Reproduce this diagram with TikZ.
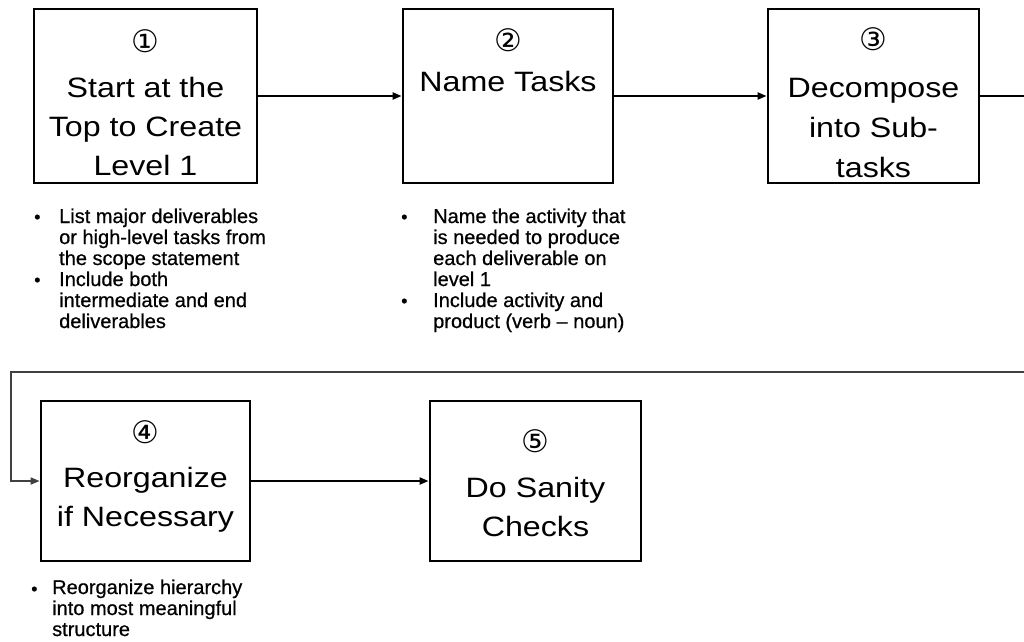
\documentclass[tikz,border=0pt]{standalone}
\usepackage{fontspec}
\setmainfont{Liberation Sans}
\newfontfamily\bigfont[FakeStretch=1.15]{Liberation Sans}
\newfontfamily\notefont[FakeBold=0.6]{Liberation Sans}
\newfontfamily\symfont{DejaVu Sans}
\usetikzlibrary{arrows.meta}
\begin{document}
\begin{tikzpicture}[x=1pt,y=-1pt,
  stepbox/.style={draw=black, line width=2.8pt, rectangle, inner sep=0pt},
  title/.style={font=\bigfont\fontsize{28}{30}\selectfont, anchor=base, inner sep=0pt},
  num/.style={font=\symfont\fontsize{31}{33}\selectfont, anchor=center, inner sep=0pt},
  note/.style={font=\notefont\fontsize{20}{21}\selectfont, align=left, anchor=base west, inner sep=0pt},
  dot/.style={font=\notefont\fontsize{18}{21}\selectfont, anchor=base west, inner sep=0pt},
  flow/.style={line width=2pt, -{Triangle[length=9pt,width=7pt]}},
]
\useasboundingbox (0,0) rectangle (1024,641);
\clip (0,0) rectangle (1024,641);
\fill[white] (0,0) rectangle (1024,641);

% boxes
\node[stepbox, minimum width=223pt, minimum height=174pt] (b1) at (145.5,96) {};
\node[stepbox, minimum width=210pt, minimum height=174pt] (b2) at (508,96) {};
\node[stepbox, minimum width=211pt, minimum height=174pt] (b3) at (873.5,96) {};
\node[stepbox, minimum width=209pt, minimum height=160pt] (b4) at (145.5,481) {};
\node[stepbox, minimum width=211pt, minimum height=160pt] (b5) at (535.5,481) {};

% box texts
\node[num] (n1) at (145.5,41) {①};
\node[title] (t1a) at (145.5,97) {Start at the};
\node[title] (t1b) at (145.5,136) {Top to Create};
\node[title] (t1c) at (145.5,175) {Level 1};

\node[num] (n2) at (508,40) {②};
\node[title] (t2a) at (508,91) {Name Tasks};

\node[num] (n3) at (873.5,39) {③};
\node[title] (t3a) at (873.5,97) {Decompose};
\node[title] (t3b) at (873.5,137) {into Sub-};
\node[title] (t3c) at (873.5,177) {tasks};

\node[num] (n4) at (145.5,432) {④};
\node[title] (t4a) at (145.5,487) {Reorganize};
\node[title] (t4b) at (145.5,526) {if Necessary};

\node[num] (n5) at (535.5,441) {⑤};
\node[title] (t5a) at (535.5,497) {Do Sanity};
\node[title] (t5b) at (535.5,536) {Checks};

% notes (anchor = baseline of the last line)
\node[dot] (d1a) at (34,223) {•};
\node[note] (l1a) at (59,265) {List major deliverables\\or high-level tasks from\\the scope statement};
\node[dot] (d1b) at (34,286) {•};
\node[note] (l1b) at (59,328) {Include both\\intermediate and end\\deliverables};

\node[dot] (d2a) at (401,223) {•};
\node[note] (l2a) at (433,286) {Name the activity that\\is needed to produce\\each deliverable on\\level 1};
\node[dot] (d2b) at (401,307) {•};
\node[note] (l2b) at (433,328) {Include activity and\\product (verb – noun)};

\node[dot] (d4a) at (31,595) {•};
\node[note] (l4a) at (52,636) {Reorganize hierarchy\\into most meaningful\\structure};

% connectors
\draw[flow] (b1.east) -- (b2.west);
\draw[flow] (b2.east) -- (b3.west);
\draw[flow] (b4.east) -- (b5.west);
\coordinate (o3) at (1030,96);
\coordinate (r3) at (1030,372);
\coordinate (c4) at (11,372);
\draw[line width=2pt] (b3.east) -- (o3) -- (r3);
\draw[flow, draw=black!75, line width=1.6pt] (r3) -- (c4) |- (b4.west);
\end{tikzpicture}
\end{document}
